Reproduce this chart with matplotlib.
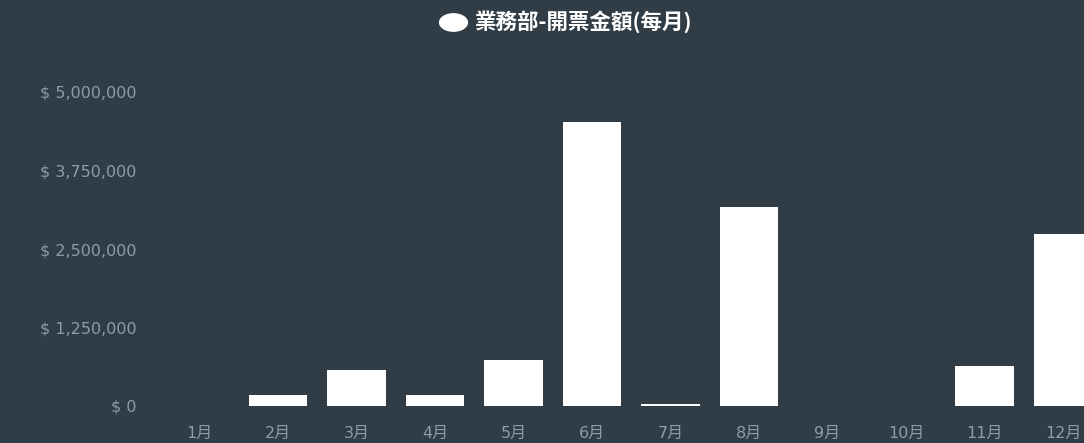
import matplotlib
matplotlib.use("Agg")
import matplotlib.pyplot as plt
from matplotlib.lines import Line2D
from matplotlib.path import Path
from matplotlib.ticker import FuncFormatter
import numpy as np

plt.rcParams['font.family'] = ['DejaVu Sans', 'Noto Sans CJK TC']

months = ['1月', '2月', '3月', '4月', '5月', '6月', '7月', '8月', '9月', '10月', '11月', '12月']
amounts = [0, 175000, 575000, 175000, 735000, 4520000, 30000, 3170000, 0, 0, 640000, 2740000]
yticks = [0, 1250000, 2500000, 3750000, 5000000]
series_name = '業務部-開票金額(每月)'

bg = '#303d47'
tick_color = '#8d9ca8'

W, H = 1084, 443
fig = plt.figure(figsize=(W / 100, H / 100), dpi=100, facecolor=bg)
ax = fig.add_axes([160.25 / W, 37 / H, 942 / W, 314 / H], facecolor=bg)

x = list(range(len(months)))
ax.bar(x, amounts, width=0.74, color='white', edgecolor='none')
ax.set_xlim(-0.5, len(months) - 0.5)
ax.set_ylim(0, 5000000)
ax.set_yticks(yticks)
ax.yaxis.set_major_formatter(FuncFormatter(lambda v, p: f'$ {int(v):,}'))
ax.set_xticks(x)
ax.set_xticklabels(months)
ax.tick_params(axis='both', length=0, colors=tick_color, labelsize=11.5)
ax.tick_params(axis='y', pad=17)
ax.tick_params(axis='x', pad=14)
for s in ax.spines.values():
    s.set_visible(False)
ax.grid(False)

# horizontally stretched circle marker, as in the reference
t = np.linspace(0, 2 * np.pi, 60)
ell = Path(np.column_stack([1.6 * np.cos(t), np.sin(t)]), closed=True)
handle = Line2D([], [], marker=ell, linestyle='none', markersize=20,
                markerfacecolor='white', markeredgecolor='white')
leg = fig.legend([handle], [series_name], loc='center', bbox_to_anchor=(565 / W, 1 - 22 / H),
                 frameon=False, handletextpad=0.3, handlelength=1.4,
                 prop={'size': 15.5, 'weight': 'bold', 'family': ['Noto Sans CJK TC', 'DejaVu Sans']})
for tx in leg.get_texts():
    tx.set_color('white')

fig.savefig('out.png', dpi=100, facecolor=bg)
